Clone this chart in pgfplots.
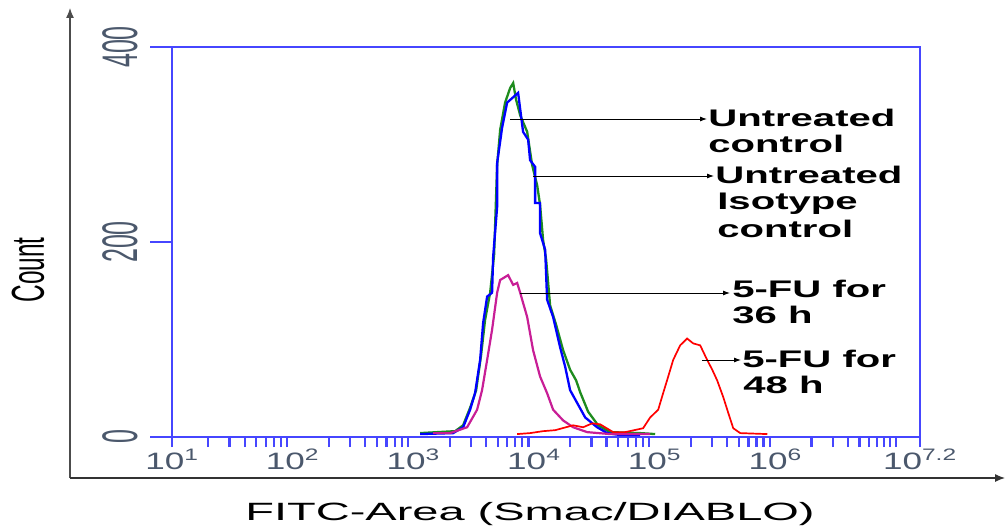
\documentclass[border=0pt]{standalone}
\usepackage{fontspec}
\setmainfont{Liberation Sans}
\usepackage{pgfplots}
\pgfplotsset{compat=1.18}
\usepackage{pgfplotstable}
\usetikzlibrary{arrows.meta}
\definecolor{frameblue}{RGB}{70,70,255}
\definecolor{ticklab}{RGB}{75,88,108}
\definecolor{cgreen}{RGB}{30,140,30}
\definecolor{cblue}{RGB}{0,0,255}
\definecolor{cmag}{RGB}{200,30,150}
\definecolor{cred}{RGB}{255,0,0}

% L = log10(FITC-Area), C = count
\pgfplotstableread{
L C
3.056 4
3.347 6
3.413 12
3.471 30
3.521 48
3.562 84
3.595 120
3.637 148
3.670 187
3.695 279
3.720 315
3.761 343
3.803 358
3.828 363
3.852 346
3.886 330
3.944 313
3.985 279
4.027 258
4.051 238
4.076 202
4.101 182
4.134 135
4.184 115
4.242 89
4.300 69
4.350 58
4.383 46
4.449 26
4.532 12
4.632 5
4.881 4
5.005 3
}\greendata

\pgfplotstableread{
L C
3.056 3
3.330 4
3.413 10
3.471 28
3.512 45
3.554 79
3.579 117
3.612 144
3.653 148
3.662 185
3.695 236
3.695 281
3.736 317
3.778 343
3.869 353
3.910 313
3.952 305
3.968 284
4.010 277
4.010 240
4.051 240
4.051 209
4.093 192
4.109 141
4.159 123
4.217 92
4.259 72
4.300 48
4.358 35
4.425 20
4.524 10
4.607 4
4.715 2
4.881 2
}\bluedata

\pgfplotstableread{
L C
3.164 4
3.305 4
3.446 10
3.529 28
3.570 48
3.612 79
3.653 110
3.695 148
3.720 161
3.786 166
3.828 156
3.861 158
3.886 148
3.944 123
3.993 89
4.051 62
4.109 45
4.159 28
4.242 17
4.325 10
4.441 5
4.632 3
4.963 3
}\magdata

\pgfplotstableread{
L C
3.861 3
3.968 4
4.076 6
4.176 7
4.325 12
4.408 10
4.483 14
4.549 13
4.657 5
4.756 5
4.905 9
4.963 20
5.030 28
5.071 45
5.113 62
5.154 79
5.212 94
5.270 101
5.320 96
5.378 94
5.436 79
5.478 69
5.519 58
5.569 41
5.610 25
5.652 9
5.710 4
5.934 3
}\reddata

\begin{document}
\begin{tikzpicture}
\useasboundingbox (-172pt,-91pt) rectangle (836pt,437pt);
\begin{axis}[
  at={(0pt,0pt)}, anchor=south west,
  scale only axis, width=748pt, height=390pt,
  xmode=log, xmin=10, xmax=15848932, ymin=0, ymax=400,
  axis line style={frameblue, line width=1.5pt},
  tick align=outside, tick pos=left,
  major tick length=22pt, minor tick length=10pt,
  every tick/.style={frameblue, line width=1.6pt},
  every minor tick/.style={frameblue, line width=2.2pt},
  every major x tick/.append style={draw=none},
  xtick={10,100,1000,10000,100000,1000000,15848932},
  xticklabels={10\textsuperscript{1},10\textsuperscript{2},10\textsuperscript{3},10\textsuperscript{4},10\textsuperscript{5},10\textsuperscript{6},10\textsuperscript{7.2}},
  minor xtick={10,20,30,40,50,60,70,80,90,200,300,400,500,600,700,800,900,2000,3000,4000,5000,6000,7000,8000,9000,20000,30000,40000,50000,60000,70000,80000,90000,200000,300000,400000,500000,600000,700000,800000,900000,2000000,3000000,4000000,5000000,6000000,7000000,8000000,9000000,10000000,15848932},
  ytick={0,200,400},
  yticklabels={0,200,400},
  xticklabel shift=-10pt,
  yticklabel shift=12pt,
  xticklabel style={font=\fontsize{23.7}{24}\selectfont, text=ticklab, xscale=1.48, anchor=north, inner sep=0pt},
  yticklabel style={font=\fontsize{25}{26}\selectfont, text=ticklab, xscale=2, rotate=90, anchor=south, inner sep=0pt},
  clip=false,
]
\addplot[cgreen, line width=2.3pt] table[x expr={10^(\thisrow{L})}, y=C] {\greendata};
\addplot[cblue, line width=2.3pt] table[x expr={10^(\thisrow{L})}, y=C] {\bluedata};
\addplot[cmag, line width=2.2pt] table[x expr={10^(\thisrow{L})}, y=C] {\magdata};
\addplot[cred, line width=1.7pt] table[x expr={10^(\thisrow{L})}, y=C] {\reddata};
\end{axis}

% outer axes
\draw[line width=1.2pt, black!70, -{Latex[length=10pt,width=8pt]}] (-102pt,-41pt) -- (-102pt,429pt);
\draw[line width=1.2pt, black!80, -{Latex[length=10pt,width=8pt]}] (-102pt,-41pt) -- (833pt,-41pt);

% axis titles
\node[font=\fontsize{24.4}{26}\selectfont, xscale=1.89, rotate=90, inner sep=0pt] at (-144pt,167pt) {Count};
\node[anchor=base, font=\fontsize{25}{27}\selectfont, xscale=1.88, inner sep=0pt] at (358pt,-83pt) {FITC-Area (Smac/DIABLO)};

% annotations
\tikzset{ann/.style={anchor=base west, inner sep=0pt, xscale=1.67, font=\bfseries\fontsize{24}{26}\selectfont},
         annarr/.style={line width=0.9pt, -{Latex[length=7pt,width=5pt]}}}
\draw[annarr] (338pt,318pt) -- (535pt,318pt);
\node[ann] at (536pt,310pt) {Untreated};
\node[ann] at (536pt,284pt) {control};
\draw[annarr] (361pt,261pt) -- (542pt,261pt);
\node[ann] at (543pt,254pt) {Untreated};
\node[ann] at (545pt,228pt) {Isotype};
\node[ann] at (545pt,200pt) {control};
\draw[annarr] (348pt,144pt) -- (558pt,144pt);
\node[ann] at (560pt,140pt) {5-FU for};
\node[ann] at (560pt,114pt) {36 h};
\draw[annarr] (530pt,77pt) -- (569pt,77pt);
\node[ann] at (570pt,70pt) {5-FU for};
\node[ann] at (571pt,44pt) {48 h};
\end{tikzpicture}
\end{document}
